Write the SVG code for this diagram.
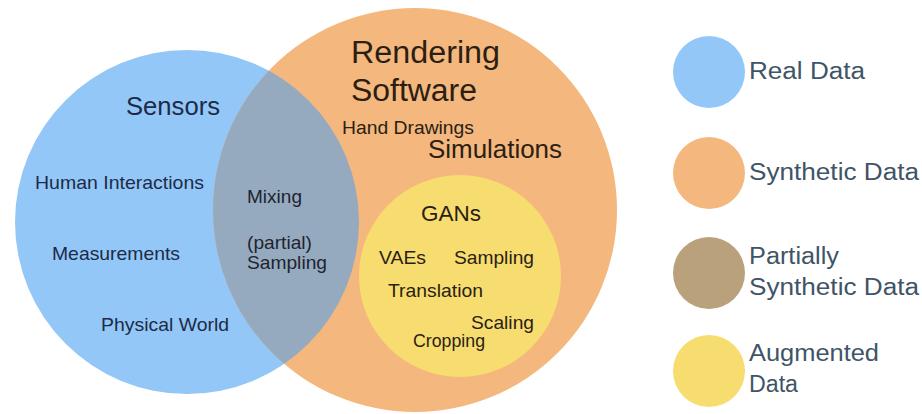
<svg xmlns="http://www.w3.org/2000/svg" width="922" height="414" viewBox="0 0 922 414">
  <style>
    text { font-family: "Liberation Sans", Arial, sans-serif; }
    .blue { fill: #93c7f7; }
    .orange { fill: #f4b77e; }
    .mix { fill: #95aabf; }
    .yellow { fill: #f7dc70; }
    .partial { fill: #b9a17b; }
    .tb { fill: #1d2b48; }
    .tm { fill: #1f2430; }
    .to { fill: #2b1e12; }
    .leg { fill: #3f5467; font-size: 23px; }
    .s19 { font-size: 19px; }
  </style>
  <defs>
    <clipPath id="clipOrange">
      <circle cx="415" cy="210" r="202"/>
    </clipPath>
  </defs>
  <rect width="922" height="414" fill="#ffffff"/>

  <g id="real-data">
    <circle class="blue" cx="187" cy="222" r="172"/>
  </g>
  <g id="synthetic-data">
    <circle class="orange" cx="415" cy="210" r="202"/>
  </g>
  <g id="partially-synthetic">
    <circle class="mix" cx="187" cy="222" r="172" clip-path="url(#clipOrange)"/>
  </g>
  <g id="augmented-data">
    <circle class="yellow" cx="460" cy="276" r="101"/>
  </g>

  <g id="real-labels">
    <text class="tb" x="126" y="115" font-size="25" textLength="94" lengthAdjust="spacingAndGlyphs">Sensors</text>
    <text class="tb s19" x="35" y="189" textLength="169" lengthAdjust="spacingAndGlyphs">Human Interactions</text>
    <text class="tb s19" x="52" y="260" textLength="128" lengthAdjust="spacingAndGlyphs">Measurements</text>
    <text class="tb s19" x="101" y="331" textLength="128" lengthAdjust="spacingAndGlyphs">Physical World</text>
  </g>
  <g id="mix-labels">
    <text class="tm s19" x="247" y="203" textLength="55" lengthAdjust="spacingAndGlyphs">Mixing</text>
    <text class="tm s19" x="247" y="249" textLength="65" lengthAdjust="spacingAndGlyphs">(partial)</text>
    <text class="tm s19" x="247" y="269" textLength="80" lengthAdjust="spacingAndGlyphs">Sampling</text>
  </g>
  <g id="synthetic-labels">
    <text class="to" x="351" y="63" font-size="31" textLength="149" lengthAdjust="spacingAndGlyphs">Rendering</text>
    <text class="to" x="351" y="101" font-size="31" textLength="126" lengthAdjust="spacingAndGlyphs">Software</text>
    <text class="to s19" x="342" y="134" textLength="132" lengthAdjust="spacingAndGlyphs">Hand Drawings</text>
    <text class="to" x="428" y="158" font-size="25" textLength="134" lengthAdjust="spacingAndGlyphs">Simulations</text>
  </g>
  <g id="augmented-labels">
    <text class="to" x="421" y="221" font-size="22" textLength="60" lengthAdjust="spacingAndGlyphs">GANs</text>
    <text class="to s19" x="379" y="264" textLength="47" lengthAdjust="spacingAndGlyphs">VAEs</text>
    <text class="to s19" x="454" y="264" textLength="80" lengthAdjust="spacingAndGlyphs">Sampling</text>
    <text class="to s19" x="388" y="297" textLength="95" lengthAdjust="spacingAndGlyphs">Translation</text>
    <text class="to s19" x="471" y="329" textLength="63" lengthAdjust="spacingAndGlyphs">Scaling</text>
    <text class="to" x="413" y="347" font-size="18" textLength="72" lengthAdjust="spacingAndGlyphs">Cropping</text>
  </g>

  <g id="legend-real">
    <circle class="blue" cx="709" cy="72" r="36"/>
    <text class="leg" x="749" y="79" textLength="116" lengthAdjust="spacingAndGlyphs">Real Data</text>
  </g>
  <g id="legend-synthetic">
    <circle class="orange" cx="709" cy="173" r="36"/>
    <text class="leg" x="749" y="180" textLength="170" lengthAdjust="spacingAndGlyphs">Synthetic Data</text>
  </g>
  <g id="legend-partial">
    <circle class="partial" cx="709" cy="273" r="36"/>
    <text class="leg" x="749" y="264" textLength="90" lengthAdjust="spacingAndGlyphs">Partially</text>
    <text class="leg" x="749" y="295" textLength="170" lengthAdjust="spacingAndGlyphs">Synthetic Data</text>
  </g>
  <g id="legend-augmented">
    <circle class="yellow" cx="709" cy="371" r="36"/>
    <text class="leg" x="749" y="361" textLength="130" lengthAdjust="spacingAndGlyphs">Augmented</text>
    <text class="leg" x="749" y="392" textLength="49" lengthAdjust="spacingAndGlyphs">Data</text>
  </g>
</svg>
